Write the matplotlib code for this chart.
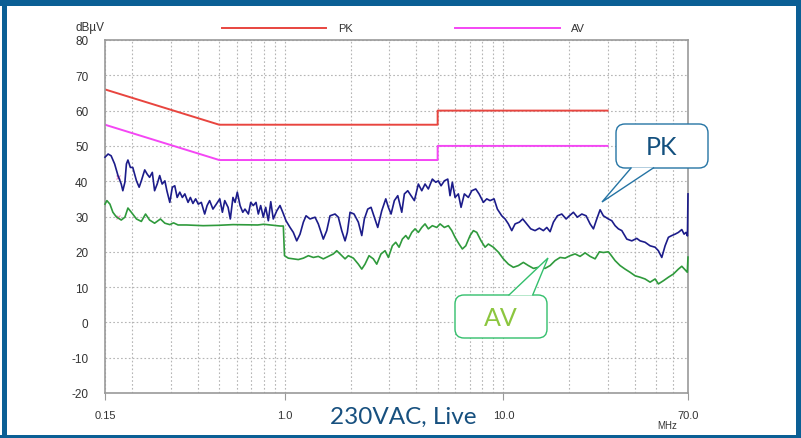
import numpy as np
import matplotlib
matplotlib.use('Agg')
import matplotlib.pyplot as plt
from matplotlib.patches import FancyBboxPatch, Polygon, Rectangle
from matplotlib.lines import Line2D
from matplotlib.ticker import FixedLocator, FixedFormatter, LogLocator, NullFormatter

W, H = 801, 439

# limit lines (MHz, dBuV)
lim_freq = [0.15, 0.5, 5.0, 5.0, 30.0]
pk_limit = [66, 56, 56, 60, 60]
av_limit = [56, 46, 46, 50, 50]

# peak scan
pk_freq = [0.150, 0.155, 0.160, 0.166, 0.172, 0.178, 0.181, 0.185, 0.188, 0.191,
           0.196, 0.201, 0.209, 0.215, 0.220, 0.228, 0.234, 0.240, 0.247, 0.253,
           0.260, 0.267, 0.274, 0.282, 0.288, 0.297, 0.305, 0.313, 0.321, 0.330,
           0.339, 0.348, 0.360, 0.369, 0.379, 0.390, 0.401, 0.414, 0.429, 0.440,
           0.452, 0.468, 0.485, 0.503, 0.517, 0.530, 0.549, 0.562, 0.578, 0.591,
           0.605, 0.623, 0.641, 0.656, 0.680, 0.697, 0.716, 0.737, 0.755, 0.774,
           0.796, 0.816, 0.839, 0.861, 0.884, 0.917, 0.949, 0.977, 1.011, 1.055,
           1.092, 1.132, 1.172, 1.214, 1.249, 1.302, 1.373, 1.421, 1.498, 1.553,
           1.608, 1.695, 1.755, 1.819, 1.884, 1.930, 1.986, 2.071, 2.167, 2.247,
           2.309, 2.393, 2.478, 2.565, 2.659, 2.773, 2.894, 2.975, 3.060, 3.168,
           3.284, 3.425, 3.521, 3.648, 3.777, 3.912, 4.080, 4.229, 4.378, 4.533,
           4.728, 4.901, 5.037, 5.183, 5.366, 5.563, 5.697, 5.838, 6.007, 6.220,
           6.399, 6.625, 6.912, 7.163, 7.472, 7.737, 8.097, 8.391, 8.688, 9.062,
           9.383, 9.829, 10.18, 10.54, 10.92, 11.31, 11.83, 12.26, 12.79, 13.34,
           13.96, 14.61, 15.24, 15.80, 16.36, 16.94, 17.67, 18.50, 19.37, 20.05,
           20.91, 21.81, 22.85, 23.91, 24.94, 25.83, 26.76, 27.71, 28.68, 30.24,
           31.35, 32.46, 33.61, 34.84, 36.72, 38.70, 40.80, 42.24, 44.53, 46.94,
           49.48, 51.23, 53.10, 54.98, 56.93, 59.00, 61.09, 63.26, 65.57, 67.17, 68.60,
           69.6, 70.0]
pk_level = [46.8, 47.7, 47.2, 44.9, 41.6, 39.2, 37.3, 39.7, 44.9, 46.0,
            43.9, 43.9, 40.1, 38.3, 40.1, 43.2, 42.0, 41.1, 42.5, 37.3,
            39.2, 41.6, 39.2, 40.1, 37.3, 34.0, 38.3, 38.7, 35.4, 36.9,
            35.4, 36.4, 34.0, 35.4, 33.7, 35.0, 33.5, 34.0, 30.7, 33.1,
            34.5, 32.1, 33.5, 35.0, 31.2, 34.5, 32.6, 29.3, 35.4, 34.0,
            36.9, 33.1, 31.2, 32.1, 30.7, 34.0, 33.1, 34.0, 30.7, 33.1,
            29.8, 32.6, 28.8, 34.2, 29.3, 31.6, 33.1, 31.2, 28.8, 26.9,
            25.5, 23.1, 25.0, 28.4, 30.2, 29.3, 29.8, 27.9, 23.6, 26.0,
            30.2, 30.7, 29.8, 26.0, 23.1, 25.5, 31.2, 30.7, 28.4, 24.6,
            29.3, 32.1, 32.6, 29.8, 26.9, 31.6, 35.0, 32.6, 30.7, 34.5,
            35.9, 31.2, 36.4, 37.3, 35.9, 34.5, 39.2, 37.3, 39.2, 37.8,
            40.6, 39.7, 40.1, 38.7, 40.1, 40.6, 35.9, 39.7, 35.4, 36.4,
            32.6, 36.4, 35.4, 37.3, 37.8, 36.4, 34.0, 35.0, 34.5, 35.0,
            32.1, 30.2, 29.3, 27.9, 26.0, 27.9, 28.4, 29.3, 27.9, 26.5,
            26.0, 26.7, 26.0, 26.9, 25.7, 28.4, 30.2, 30.7, 29.3, 30.2,
            31.2, 29.8, 30.7, 30.2, 27.9, 26.5, 29.3, 31.9, 30.2, 29.3,
            28.8, 27.4, 26.5, 26.0, 23.6, 23.1, 23.8, 23.1, 22.7, 21.7,
            21.3, 20.3, 18.4, 21.7, 24.1, 24.6, 25.0, 25.5, 26.3, 25.0, 25.5,
            24.5, 36.4]

# average scan
av_freq = [0.150, 0.153, 0.158, 0.163, 0.169, 0.178, 0.185, 0.191, 0.198, 0.209,
           0.220, 0.230, 0.240, 0.253, 0.269, 0.282, 0.297, 0.309, 0.324, 0.354,
           0.422, 0.494, 0.578, 0.75, 0.80, 0.95, 0.983, 0.995, 1.036, 1.092,
           1.151, 1.214, 1.280, 1.349, 1.421, 1.498, 1.580, 1.665, 1.726, 1.787,
           1.884, 1.950, 2.057, 2.167, 2.247, 2.325, 2.426, 2.538, 2.631, 2.752,
           2.872, 2.975, 3.102, 3.215, 3.329, 3.447, 3.573, 3.672, 3.806, 3.940,
           4.080, 4.229, 4.378, 4.533, 4.728, 4.954, 5.129, 5.366, 5.598, 5.804,
           6.007, 6.267, 6.488, 6.726, 7.038, 7.287, 7.552, 7.903, 8.243, 8.534,
           8.996, 9.481, 9.995, 10.54, 11.11, 11.71, 12.34, 13.01, 13.72, 14.46,
           15.51, 16.36, 17.24, 18.18, 19.16, 20.19, 21.29, 22.44, 23.66, 24.94,
           26.29, 27.51, 28.68, 30.24, 30.79, 32.46, 34.21, 36.06, 38.01, 40.08,
           42.24, 44.53, 46.94, 49.48, 51.23, 54.0, 56.93, 60.0, 63.26, 65.57,
           67.89, 69.5, 70.0]
av_level = [33.5, 34.5, 33.5, 31.2, 29.9, 29.0, 29.8, 32.4, 31.2, 29.3,
            28.6, 30.7, 29.0, 28.1, 29.3, 28.1, 27.7, 28.2, 27.6, 27.6,
            27.4, 27.5, 27.7, 27.6, 27.8, 27.3, 27.3, 18.9, 18.2, 18.0,
            17.8, 18.2, 18.9, 18.4, 18.7, 18.0, 18.7, 19.4, 20.3, 19.4,
            18.0, 18.9, 18.2, 16.5, 15.1, 16.5, 18.9, 18.0, 16.5, 19.4,
            20.3, 18.4, 21.7, 22.7, 21.3, 23.6, 24.6, 23.6, 25.5, 26.5,
            25.5, 26.9, 27.9, 26.5, 27.4, 26.9, 27.9, 26.9, 27.4, 26.0,
            24.1, 22.2, 20.8, 21.7, 24.6, 26.0, 25.5, 23.1, 21.3, 22.2,
            21.3, 19.9, 18.0, 16.5, 15.6, 16.1, 17.0, 16.1, 15.3, 15.6,
            15.3, 16.1, 17.5, 18.4, 18.2, 18.9, 19.4, 18.7, 19.7, 18.7,
            18.0, 20.0, 19.8, 20.0, 19.4, 17.5, 16.1, 15.1, 14.2, 13.2,
            12.8, 12.3, 11.4, 12.3, 10.9, 11.8, 12.8, 13.7, 15.1, 15.9,
            14.9, 14.2, 18.5]

x_ticks = [0.15, 1.0, 10.0, 70.0]
x_labels = ['0.15', '1.0', '10.0', '70.0']
y_ticks = list(range(-20, 81, 10))
y_labels = [str(v) for v in y_ticks]

PK_COLOR = '#e8453f'
AV_COLOR = '#f446f4'
FRAME = '#0b5f95'

plt.rcParams['font.family'] = ['Liberation Sans', 'DejaVu Sans']

fig = plt.figure(figsize=(W / 100, H / 100), dpi=100)
ax = fig.add_axes([105 / W, 1 - 394 / H, 583 / W, 353 / H])
ax.set_xscale('log')
ax.set_xlim(0.15, 70)
ax.set_ylim(-20, 80)

ax.xaxis.set_major_locator(FixedLocator(x_ticks))
ax.xaxis.set_major_formatter(FixedFormatter(x_labels))
ax.xaxis.set_minor_locator(LogLocator(base=10, subs=np.arange(2, 10), numticks=20))
ax.xaxis.set_minor_formatter(NullFormatter())
ax.set_yticks(y_ticks)
ax.set_yticklabels(y_labels)
ax.tick_params(axis='x', which='major', length=5, color='#999999', labelsize=8,
               labelcolor='#333333', pad=7)
ax.tick_params(axis='x', which='minor', length=0)
ax.tick_params(axis='y', length=0, labelsize=8.5, labelcolor='#333333', pad=12)

ax.set_axisbelow(True)
ax.grid(which='both', axis='x', ls=(0, (1.5, 2)), color='#b5b5b5', lw=0.8)
ax.grid(which='major', axis='y', ls=(0, (1.5, 2)), color='#b5b5b5', lw=0.8)
for s in ax.spines.values():
    s.set_color('#9a9a9a')
    s.set_linewidth(1.2)

ax.plot(lim_freq, pk_limit, color=PK_COLOR, lw=1.4)
ax.plot(lim_freq, av_limit, color=AV_COLOR, lw=1.4)
ax.plot(av_freq, av_level, color='#2f9a3c', lw=1.2, zorder=3, clip_on=False)
ax.plot(pk_freq, pk_level, color='#1c1c8a', lw=1.2, zorder=3, clip_on=False)

# small detector markers
ax.plot([0.172, 0.172], [41.1, 30.0], ls='none', marker='x', ms=3, mew=0.8, color='#f08cc0')

# overlay in pixel coordinates for frame, legend and callouts
ov = fig.add_axes([0, 0, 1, 1], zorder=10)
ov.set_xlim(0, W)
ov.set_ylim(H, 0)
ov.axis('off')

ov.add_patch(Rectangle((0, 0), W, 7, color=FRAME, lw=0))
ov.add_patch(Rectangle((2, 0), 5, H, color=FRAME, lw=0))
ov.add_patch(Rectangle((0, 436), W, 3, color=FRAME, lw=0))
ov.add_patch(Rectangle((796, 0), 5, H, color=FRAME, lw=0))

ov.add_line(Line2D([222, 326], [29, 29], color=PK_COLOR, lw=1.4))
ov.text(338, 29, 'PK', fontsize=8, color='#333333', va='center')
ov.add_line(Line2D([455, 560], [29, 29], color=AV_COLOR, lw=1.4))
ov.text(571, 29, 'AV', fontsize=8, color='#333333', va='center')

ov.text(76, 28, 'dBµV', fontsize=8.5, color='#333333', va='center')
ov.text(667, 426, 'MHz', fontsize=7, color='#333333', ha='center', va='center')


def callout(box, base, tip, label, edge, tcolor):
    x0, y0, x1, y1 = box
    ov.add_patch(FancyBboxPatch((x0, y0), x1 - x0, y1 - y0,
                                boxstyle='round,pad=0,rounding_size=9',
                                fc='white', ec=edge, lw=1.0))
    (bx0, by), (bx1, _) = base
    ov.add_patch(Polygon([(bx0, by), tip, (bx1, by)], closed=False,
                         fc='white', ec=edge, lw=1.0))
    ov.text((x0 + x1) / 2, (y0 + y1) / 2 + 1, label, family='Lato', fontsize=18,
            color=tcolor, ha='center', va='center')


callout((616, 125, 708, 169), [(631.5, 168.5), (654, 168.5)], (602, 203),
        'PK', '#2574a4', '#13507e')
callout((455, 296, 547, 339), [(508.5, 296.5), (532.5, 296.5)], (548, 259),
        'AV', '#33bf6c', '#8cc63f')

ov.text(403, 424, '230VAC, Live', family='Lato', fontsize=17.5, color='#17507f',
        ha='center', va='baseline')

fig.savefig('out.png', dpi=100)
